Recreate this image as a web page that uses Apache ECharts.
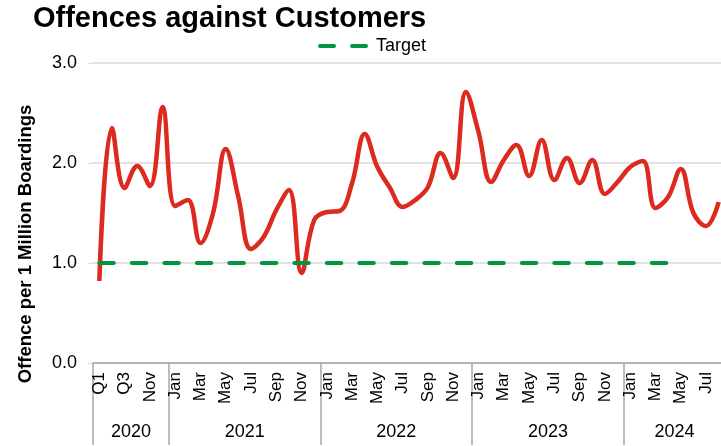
<!DOCTYPE html>
<html>
<head>
<meta charset="utf-8">
<script src="https://cdn.jsdelivr.net/npm/echarts@6/dist/echarts.min.js"></script>
<style>
  html, body { margin: 0; padding: 0; background: #fff; }
  #chart { width: 721px; height: 446px; }
</style>
</head>
<body>
<div id="chart"></div>
<script>
// periods shown on the x axis, grouped by year
const years = ['2020', '2021', '2022', '2023', '2024'];
const periods2020 = ['Q1', 'Q2', 'Q3', 'Oct', 'Nov', 'Dec'];
const months = ['Jan', 'Feb', 'Mar', 'Apr', 'May', 'Jun', 'Jul', 'Aug', 'Sep', 'Oct', 'Nov', 'Dec'];
const periods2024 = ['Jan', 'Feb', 'Mar', 'Apr', 'May', 'Jun', 'Jul', 'Aug'];

// offences per 1 million boardings
const offences = [
    0.82, 2.35, 1.75, 1.97, 1.77, 2.56,
    1.57, 1.63, 1.20, 1.50, 2.14, 1.66, 1.14, 1.26, 1.53, 1.73, 0.90, 1.43,
    1.51, 1.52, 1.80, 2.29, 1.96, 1.75, 1.56, 1.63, 1.76, 2.10, 1.85, 2.71,
    2.31, 1.81, 2.03, 2.18, 1.87, 2.23, 1.83, 2.05, 1.80, 2.03, 1.69, 1.81,
    1.96, 2.02, 1.55, 1.66, 1.94, 1.50, 1.37, 1.61
];
// target, runs to Apr 2024
const target = [
    1, 1, 1, 1, 1, 1,
    1, 1, 1, 1, 1, 1, 1, 1, 1, 1, 1, 1,
    1, 1, 1, 1, 1, 1, 1, 1, 1, 1, 1, 1,
    1, 1, 1, 1, 1, 1, 1, 1, 1, 1, 1, 1,
    1, 1, 1, 1, null, null, null, null
];

const yearPeriods = [periods2020, months, months, months, periods2024];
const categories = [].concat(...yearPeriods);

// second axis: points on category boundaries, year names at the middle of each block
const yearBounds = [0];
yearPeriods.forEach(function (p) { yearBounds.push(yearBounds[yearBounds.length - 1] + p.length); });
const yearAxisData = [];
for (let i = 0; i <= categories.length; i++) yearAxisData.push('');
years.forEach(function (y, k) {
    yearAxisData[(yearBounds[k] + yearBounds[k + 1]) / 2] = y;
});

const chart = echarts.init(document.getElementById('chart'));
const gray = '#a6a6a6';
const green = '#009640';
const font = 'Liberation Sans, Arial, sans-serif';

chart.setOption({
    animation: false,
    textStyle: { fontFamily: font },
    title: {
        text: 'Offences against Customers',
        left: 33,
        top: 4,
        padding: 0,
        textStyle: { fontSize: 29, fontWeight: 'bold', color: '#000', fontFamily: font }
    },
    legend: {
        data: ['Target'],
        left: 318,
        top: 37,
        padding: 0,
        itemWidth: 51,
        itemHeight: 16,
        itemGap: 8,
        itemStyle: { opacity: 0 },
        lineStyle: { width: 4, type: [14, 18], cap: 'round', color: green },
        textStyle: { fontSize: 18, color: '#000', fontFamily: font }
    },
    // the plot runs a few pixels past the right edge of the picture
    grid: { left: 93, width: 632, top: 63, bottom: 83, outerBoundsMode: 'none' },
    xAxis: [
        {
            type: 'category',
            data: categories,
            position: 'bottom',
            axisLine: { lineStyle: { color: gray, width: 1.5 } },
            axisTick: { interval: 0, length: 50, lineStyle: { color: gray, width: 1.5 } },
            axisLabel: {
                interval: 1,
                rotate: 90,
                margin: 9,
                fontSize: 17,
                color: '#000',
                fontFamily: font
            },
            splitLine: { show: false }
        },
        {
            type: 'category',
            data: yearAxisData,
            boundaryGap: false,
            position: 'bottom',
            axisLine: { show: false },
            axisTick: {
                length: 82,
                lineStyle: { color: gray, width: 1.5 },
                interval: function (index) { return yearBounds.indexOf(index) !== -1; }
            },
            axisLabel: {
                interval: 0,
                margin: 60,
                fontSize: 18,
                color: '#000',
                fontFamily: font
            },
            splitLine: { show: false }
        }
    ],
    yAxis: {
        type: 'value',
        min: 0,
        max: 3,
        interval: 1,
        name: 'Offence per 1 Million Boardings',
        nameLocation: 'middle',
        nameRotate: 90,
        nameGap: 58,
        nameTextStyle: {
            fontSize: 18.5,
            fontWeight: 'bold',
            color: '#000',
            fontFamily: font,
            padding: [0, 62, 0, 0]
        },
        axisLine: { show: false },
        axisTick: { show: true, length: 5, lineStyle: { color: '#d9d9d9' } },
        axisLabel: {
            fontSize: 18,
            color: '#000',
            margin: 16,
            fontFamily: font,
            formatter: function (v) { return v.toFixed(1); }
        },
        splitLine: { lineStyle: { color: '#d9d9d9', width: 1.5 } }
    },
    series: [
        {
            name: 'Offences',
            type: 'line',
            data: offences,
            smooth: 0.4,
            symbol: 'none',
            z: 3,
            lineStyle: { color: '#dc2a1f', width: 4.5 }
        },
        {
            name: 'Target',
            type: 'line',
            data: target,
            symbol: 'none',
            z: 4,
            itemStyle: { color: green },
            lineStyle: { color: green, width: 4, type: [14.5, 18], cap: 'round' }
        }
    ]
});
</script>
</body>
</html>
